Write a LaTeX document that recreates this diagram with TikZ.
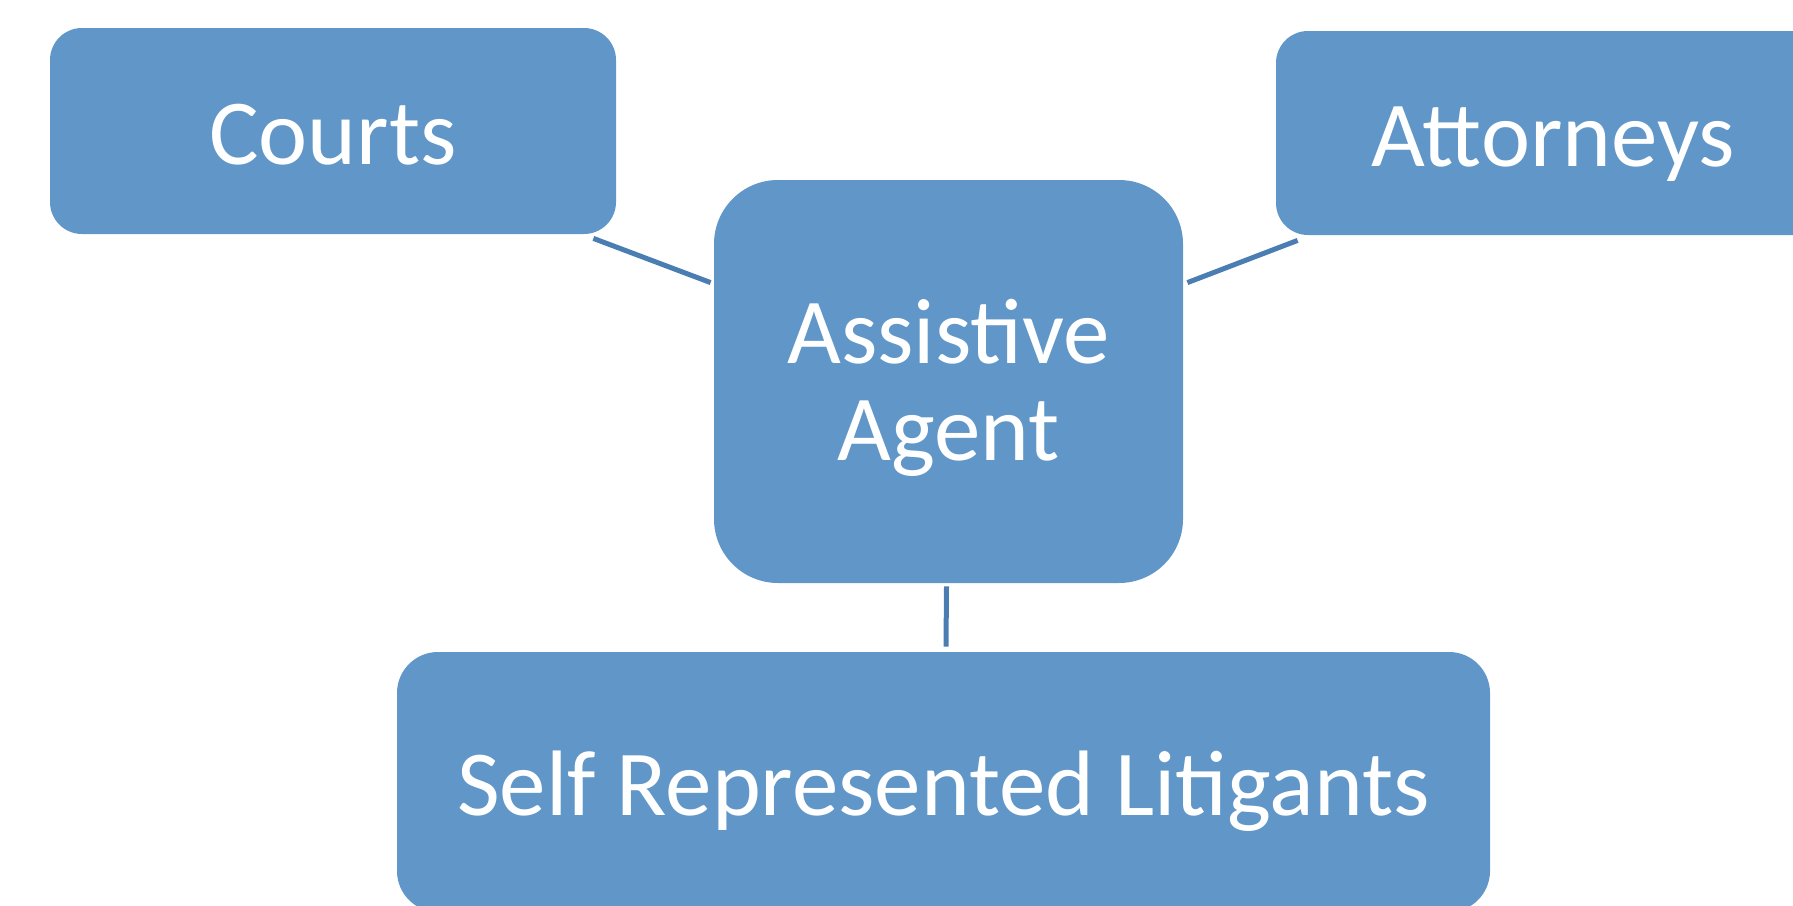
\documentclass[tikz,border=0pt]{standalone}
\usepackage{fontspec}
\setmainfont{Carlito}
\definecolor{boxblue}{RGB}{96,150,200}
\definecolor{linkblue}{RGB}{74,126,178}

\begin{document}
\begin{tikzpicture}
  [x=0.5pt,y=-0.5pt,
   party/.style={rectangle,fill=boxblue,text=white,inner sep=0pt,align=center,
     text height=33pt,text depth=0pt,
     font=\fontsize{46.5}{48.5}\selectfont},
   link/.style={draw=linkblue,line width=2.5pt}]

  \useasboundingbox (0,0) rectangle (1793,905);
  \clip (0,0) rectangle (1793,905);

  \node[party,minimum width=283pt,minimum height=103pt,rounded corners=16pt]
    (courts)    at (333,131)    {Courts};
  \node[party,minimum width=277pt,minimum height=102pt,rounded corners=16pt]
    (attorneys) at (1553,133)   {Attorneys};
  \node[party,minimum width=234.5pt,minimum height=201.5pt,rounded corners=32pt,
        text height=78.5pt]
    (agent)     at (948.5,381.5) {Assistive\\Agent};
  \node[party,minimum width=546.5pt,minimum height=130pt,rounded corners=20.5pt]
    (litigants) at (943.5,782)  {Self Represented Litigants};

  \draw[link] ([shift={(-23,4)}]courts.south east) -- ([shift={(-3,103)}]agent.north west);
  \draw[link] ([shift={(4,103)}]agent.north east) -- ([shift={(22,5)}]attorneys.south west);
  \draw[link] ([shift={(-2,3)}]agent.south) -- ([shift={(2.5,-5)}]litigants.north);
\end{tikzpicture}
\end{document}
